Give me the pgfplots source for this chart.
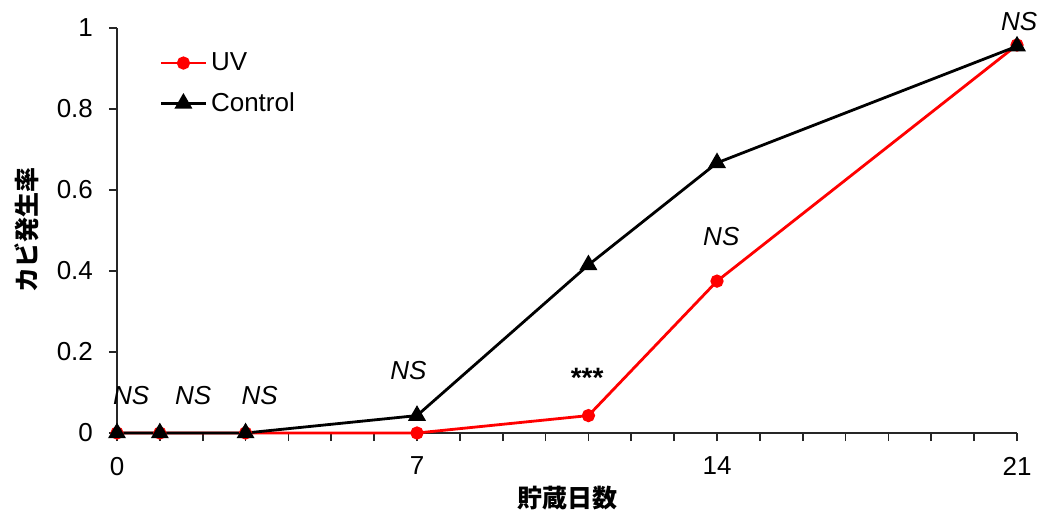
\documentclass[border=0pt]{standalone}
\usepackage{pgfplots}
\pgfplotsset{compat=1.18}
\usepackage{fontspec}
\setmainfont{Liberation Sans}
\newfontfamily\cjk{Noto Sans CJK JP}
\definecolor{uvred}{RGB}{255,0,0}
\begin{document}
\begin{tikzpicture}
\begin{axis}[
  scale only axis, width=450pt, height=202.5pt,
  xmin=0, xmax=21, ymin=0, ymax=1,
  axis lines=left,
  axis line style={-, line width=0.9pt, black!85},
  xtick={0,7,14,21}, minor xtick={0,...,21},
  ytick={0,0.2,0.4,0.6,0.8,1},
  tick align=outside, major tick length=4pt, minor tick length=4pt,
  tick style={black!85, line width=0.8pt},
  every tick label/.append style={font=\fontsize{13}{15}\selectfont},
  xticklabel style={yshift=-4.5pt},
  yticklabel style={xshift=-4.5pt},
  /pgf/number format/assume math mode=true,
  xlabel={\cjk\bfseries 貯蔵日数},
  ylabel={\cjk\bfseries カビ発生率},
  label style={font=\fontsize{12.5}{15}\selectfont},
  xlabel style={at={(axis description cs:0.5,-0.16)}, anchor=center},
  ylabel style={at={(axis description cs:-0.1,0.5)}, anchor=center},
  clip=false,
  legend style={draw=none, fill=none, at={(0.0405,0.96)}, anchor=north west,
    font=\fontsize{13}{15}\selectfont, row sep=5.5pt},
  legend cell align=left,
  legend image code/.code={
    \draw[#1, mark repeat=2, mark phase=2] plot coordinates {(0cm,0cm) (0.39cm,0cm) (0.78cm,0cm)};
  },
]
\addplot[uvred, line width=1.4pt, mark=*, mark size=2.6pt, mark options={solid, fill=uvred}]
  coordinates {(0,0) (1,0) (3,0) (7,0) (11,0.043) (14,0.375) (21,0.958)};
\addlegendentry{UV}
\addplot[black, line width=1.4pt, mark=triangle*, mark size=3.8pt, mark options={solid, fill=black}]
  coordinates {(0,0) (1,0) (3,0) (7,0.043) (11,0.415) (14,0.667) (21,0.955)};
\addlegendentry{Control}
\begin{scope}[every node/.style={font=\fontsize{13}{15}\selectfont\itshape}]
\node at (axis cs:0.33,0.092) {NS};
\node at (axis cs:1.78,0.092) {NS};
\node at (axis cs:3.33,0.092) {NS};
\node at (axis cs:6.8,0.155) {NS};
\node[font=\fontsize{14}{16}\selectfont\bfseries] at (axis cs:10.97,0.135) {***};
\node at (axis cs:14.1,0.485) {NS};
\node at (axis cs:21.05,1.015) {NS};
\end{scope}
\coordinate (O) at (rel axis cs:0,0);
\coordinate (T) at (rel axis cs:1,1);
\end{axis}
\pgfresetboundingbox
\path ([xshift=-58.5pt,yshift=-40pt]O) rectangle ([xshift=10.5pt,yshift=14pt]T);
\end{tikzpicture}
\end{document}
